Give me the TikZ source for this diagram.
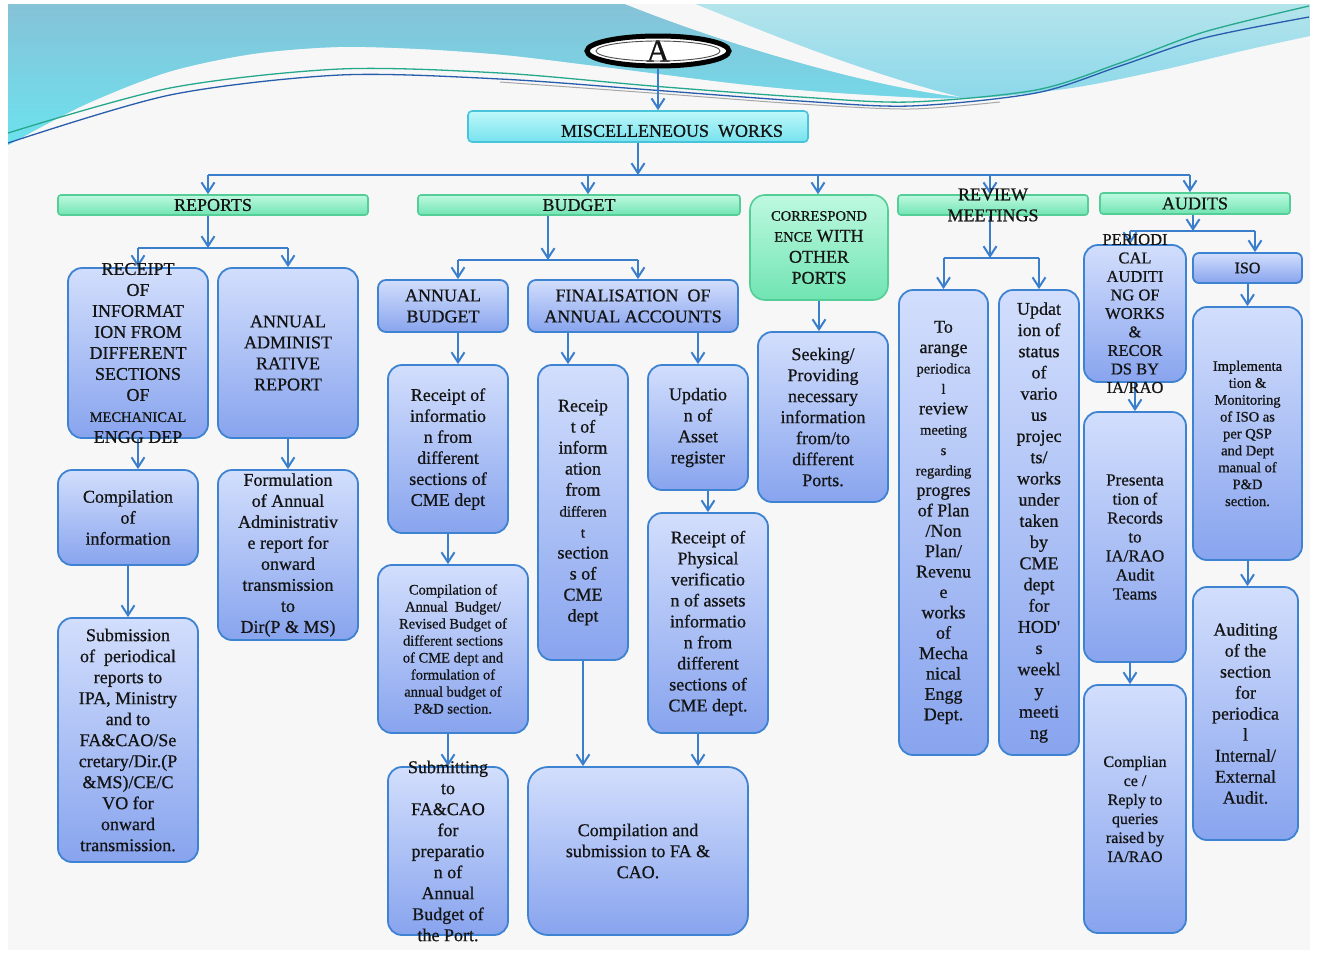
\documentclass[tikz,border=0pt]{standalone}
\usepackage{fontspec}
\setmainfont{Liberation Serif}[FakeBold=0.7]
\usetikzlibrary{arrows.meta,shapes.geometric,calc}

\definecolor{edge}{RGB}{58,126,204}
\definecolor{btop}{RGB}{210,222,252}
\definecolor{bbot}{RGB}{136,164,238}
\definecolor{bline}{RGB}{62,130,210}
\definecolor{gtop}{RGB}{190,249,224}
\definecolor{gbot}{RGB}{112,228,178}
\definecolor{gline}{RGB}{84,206,150}
\definecolor{ctop}{RGB}{190,248,250}
\definecolor{cbot}{RGB}{118,226,238}
\definecolor{cline}{RGB}{72,196,218}
\definecolor{paper}{RGB}{247,247,247}
\definecolor{waveLa}{RGB}{134,194,216}
\definecolor{waveLb}{RGB}{108,226,238}
\definecolor{waveRa}{RGB}{180,228,235}
\definecolor{waveRb}{RGB}{120,210,234}
\definecolor{lgreen}{RGB}{38,168,140}
\definecolor{lblue}{RGB}{40,92,172}
\definecolor{ink}{RGB}{20,20,20}

\newcommand{\smtxt}[1]{{\fontsize{14.5}{21}\selectfont #1}}

\tikzset{
  bluebox/.style={rectangle, rounded corners=14pt, draw=bline, line width=1.8pt,
    top color=btop, bottom color=bbot, inner sep=0pt},
  greenbar/.style={rectangle, rounded corners=3pt, draw=gline, line width=1.6pt,
    top color=gtop, bottom color=gbot, inner sep=0pt},
  cyanbar/.style={rectangle, rounded corners=4pt, draw=cline, line width=1.6pt,
    top color=ctop, bottom color=cbot, inner sep=0pt},
  conn/.style={draw=edge, line width=2pt},
  arr/.style={conn, -{Straight Barb[length=10pt,width=13pt]}},
  txt/.style={align=center, inner sep=0pt, text=ink, font=\fontsize{18}{21}\selectfont},
}

\begin{document}
\begin{tikzpicture}[x=1pt,y=-1pt]
\useasboundingbox (0,0) rectangle (1317,953);
\fill[white] (0,0) rectangle (1317,953);
\fill[paper] (8,4) rectangle (1310,950);

% decorative waves along the top
\path[top color=waveRa, bottom color=waveRb] (8,4) -- (1310,4) -- (1310,36) -- plot[smooth] coordinates {(1310,36) (1246,50) (1162,70) (1078,87) (994,97) (930,98) (825,92) (740,84) (652,73) (589,65) (505,55) (421,49) (337,47) (252,54) (168,72) (84,105) (8,145)} -- cycle;
\path[top color=waveLa, bottom color=waveLb] (8,4) -- (625,4) .. controls (740,50) and (880,88) .. (960,97) -- plot[smooth] coordinates {(960,97.5) (930,98) (825,92) (740,84) (652,73) (589,65) (505,55) (421,49) (337,47) (252,54) (168,72) (84,105) (8,145)} -- cycle;
\fill[paper] (625,4) .. controls (740,50) and (880,88) .. (960,97) .. controls (860,72) and (760,30) .. (695,4) -- cycle;
\draw[lgreen, line width=1.3pt] plot[smooth] coordinates {(8,133) (170,88) (340,69) (500,73) (652,86) (800,97) (910,102) (1036,90) (1120,63) (1204,32) (1309,6)};
\draw[lblue, line width=1.3pt] plot[smooth] coordinates {(8,143) (170,95) (340,75) (500,79) (652,90) (800,101) (910,106) (1036,93) (1120,66) (1204,38) (1309,17)};
\draw[gray!70, line width=1pt] plot[smooth] coordinates {(500,82) (652,93) (800,104) (910,109) (1000,102)};

% root and first level
\node[ellipse, draw=black, line width=5pt, fill=white, minimum width=142pt, minimum height=30pt,
  inner sep=0pt, text=ink, font=\fontsize{32}{32}\selectfont] (A) at (658,51) {A};
\draw[gray!60!black, line width=0.9pt] (A.center) ellipse [x radius=62pt, y radius=10pt];
\node[cyanbar, minimum width=340pt, minimum height=31pt] (misc) at (638,126.5) {};
\node[txt] (misct) at (672,131) {MISCELLENEOUS\ \ WORKS};

\node[greenbar, minimum width=310pt, minimum height=20pt] (rep) at (213,205) {};
\node[greenbar, minimum width=322pt, minimum height=20pt] (bud) at (579,205) {};
\node[greenbar, rounded corners=15pt, minimum width=138pt, minimum height=105pt] (cor) at (819,247.5) {};
\node[greenbar, minimum width=190pt, minimum height=20pt] (rev) at (993,205) {};
\node[greenbar, minimum width=190pt, minimum height=21pt] (aud) at (1195,203.5) {};

% reports branch
\node[bluebox, minimum width=140pt, minimum height=170pt] (r1) at (138,353) {};
\node[bluebox, minimum width=140pt, minimum height=170pt] (r2) at (288,353) {};
\node[bluebox, minimum width=140pt, minimum height=95pt] (r3) at (128,517.5) {};
\node[bluebox, minimum width=140pt, minimum height=170pt] (r4) at (288,555) {};
\node[bluebox, minimum width=140pt, minimum height=244pt] (r5) at (128,740) {};

% budget branch
\node[bluebox, rounded corners=8pt, minimum width=130pt, minimum height=52pt] (b1) at (443,306) {};
\node[bluebox, rounded corners=8pt, minimum width=210pt, minimum height=52pt] (b2) at (633,306) {};
\node[bluebox, minimum width=120pt, minimum height=168pt] (b3) at (448,449) {};
\node[bluebox, minimum width=90pt, minimum height=295pt] (b4) at (583,512.5) {};
\node[bluebox, minimum width=100pt, minimum height=125pt] (b5) at (698,427.5) {};
\node[bluebox, minimum width=120pt, minimum height=220pt] (b6) at (708,623) {};
\node[bluebox, minimum width=150pt, minimum height=168pt] (b7) at (453,649) {};
\node[bluebox, minimum width=120pt, minimum height=168pt] (b8) at (448,851) {};
\node[bluebox, rounded corners=20pt, minimum width=220pt, minimum height=168pt] (b9) at (638,851) {};

% correspondence branch
\node[bluebox, minimum width=130pt, minimum height=170pt] (c2) at (823,417) {};

% review branch
\node[bluebox, minimum width=89pt, minimum height=465pt] (rv1) at (943.5,522.5) {};
\node[bluebox, minimum width=80pt, minimum height=465pt] (rv2) at (1039,522.5) {};

% audits branch
\node[bluebox, minimum width=102pt, minimum height=137pt] (a1) at (1135,313.5) {};
\node[bluebox, rounded corners=6pt, minimum width=109pt, minimum height=30pt] (iso) at (1247.5,268) {};
\node[bluebox, minimum width=102pt, minimum height=250pt] (a2) at (1135,537) {};
\node[bluebox, minimum width=109pt, minimum height=253pt] (a3) at (1247.5,433.5) {};
\node[bluebox, minimum width=102pt, minimum height=248pt] (a4) at (1135,809) {};
\node[bluebox, minimum width=105pt, minimum height=253pt] (a5) at (1245.5,713.5) {};

% junction points
\coordinate (ta) at (208,175);
\coordinate (tb) at (588,175);
\coordinate (tc) at (818,175);
\coordinate (td) at (990,175);
\coordinate (te) at (1190,175);
\coordinate (rj) at (208,248);
\coordinate (bj) at (548,260);
\coordinate (bl) at (458,260);
\coordinate (br) at (638,260);
\coordinate (vj) at (990,258);
\coordinate (aj) at (1193,231);
\coordinate (al) at (1130,231);
\coordinate (ar) at (1255,231);
\path ([xshift=-15pt]b4.north) coordinate (b4in);

% connectors
\draw[arr] (A.south) -- (A.south |- misc.north);
\draw[arr] (misc.south) -- (misc.south |- ta);
\draw[conn] (ta) -- (te);
\draw[arr] (ta) -- (ta |- rep.north);
\draw[arr] (tb) -- (tb |- bud.north);
\draw[arr] (tc) -- (tc |- cor.north);
\draw[arr] (td) -- (td |- rev.north);
\draw[arr] (te) -- (te |- aud.north);

\draw[arr] (rj |- rep.south) -- (rj);
\draw[conn] (r1.north |- rj) -- (r2.north |- rj);
\draw[arr] (r1.north |- rj) -- (r1.north);
\draw[arr] (r2.north |- rj) -- (r2.north);
\draw[arr] (r1.south) -- (r1.south |- r3.north);
\draw[arr] (r3.south) -- (r5.north);
\draw[arr] (r2.south) -- (r4.north);

\draw[arr] (bj |- bud.south) -- (bj);
\draw[conn] (bl) -- (br);
\draw[arr] (bl) -- (bl |- b1.north);
\draw[arr] (br) -- (br |- b2.north);
\draw[arr] (bl |- b1.south) -- (bl |- b3.north);
\draw[arr] (b4in |- b2.south) -- (b4in);
\draw[arr] (b5.north |- b2.south) -- (b5.north);
\draw[arr] (b6.north |- b5.south) -- (b6.north);
\draw[arr] (b3.south) -- (b3.south |- b7.north);
\draw[arr] (b8.north |- b7.south) -- (b8.north);
\draw[arr] (b4.south) -- (b4.south |- b9.north);
\draw[arr] (b5.south |- b6.south) -- (b5.south |- b9.north);

\draw[arr] (cor.south) -- (cor.south |- c2.north);

\draw[arr] (vj |- rev.south) -- (vj);
\draw[conn] (rv1.north |- vj) -- (rv2.north |- vj);
\draw[arr] (rv1.north |- vj) -- (rv1.north);
\draw[arr] (rv2.north |- vj) -- (rv2.north);

\draw[arr] (aj |- aud.south) -- (aj);
\draw[conn] (al) -- (ar);
\draw[arr] (al) -- (al |- a1.north);
\draw[arr] (ar) -- (ar |- iso.north);
\draw[arr] (a1.south) -- (a1.south |- a2.north);
\draw[arr] (al |- a2.south) -- (al |- a4.north);
\draw[arr] (iso.south) -- (iso.south |- a3.north);
\draw[arr] (a3.south) -- (a3.south |- a5.north);

% texts
\node[txt] (rept) at (rep) {REPORTS};
\node[txt] (budt) at (bud) {BUDGET};
\node[txt] (cort) at (cor) {\smtxt{CORRESPOND}\\\smtxt{ENCE} WITH\\OTHER\\PORTS};
\node[txt] (revt) at (rev) {REVIEW\\MEETINGS};
\node[txt] (audt) at (aud) {AUDITS};

\node[txt] (r1t) at (r1) {RECEIPT\\OF\\INFORMAT\\ION FROM\\DIFFERENT\\SECTIONS\\OF\\\smtxt{MECHANICAL}\\ENGG DEP};
\node[txt] (r2t) at (r2) {ANNUAL\\ADMINIST\\RATIVE\\REPORT};
\node[txt] (r3t) at (r3) {Compilation\\of\\information};
\node[txt] (r4t) at (r4) {Formulation\\of Annual\\Administrativ\\e report for\\onward\\transmission\\to\\Dir(P \& MS)};
\node[txt] (r5t) at (r5) {Submission\\of\ \ periodical\\reports to\\IPA, Ministry\\and to\\FA\&CAO/Se\\cretary/Dir.(P\\\&MS)/CE/C\\VO for\\onward\\transmission.};

\node[txt] (b1t) at (b1) {ANNUAL\\BUDGET};
\node[txt] (b2t) at (b2) {FINALISATION\ \ OF\\ANNUAL ACCOUNTS};
\node[txt] (b3t) at (b3) {Receipt of\\informatio\\n from\\different\\sections of\\CME dept};
\node[txt] (b4t) at (b4) {Receip\\t of\\inform\\ation\\from\\{\fontsize{15}{21}\selectfont differen}\\{\fontsize{15}{21}\selectfont t}\\section\\s of\\CME\\dept};
\node[txt] (b5t) at (b5) {Updatio\\n of\\Asset\\register};
\node[txt] (b6t) at (b6) {Receipt of\\Physical\\verificatio\\n of assets\\informatio\\n from\\different\\sections of\\CME dept.};
\node[txt, font=\fontsize{14.5}{17}\selectfont] (b7t) at (b7) {Compilation of\\Annual\ \ Budget/\\Revised Budget of\\different sections\\of CME dept and\\formulation of\\annual budget of\\P\&D section.};
\node[txt] (b8t) at (b8) {Submitting\\to\\FA\&CAO\\for\\preparatio\\n of\\Annual\\Budget of\\the Port.};
\node[txt] (b9t) at (b9) {Compilation and\\submission to FA \&\\CAO.};

\node[txt] (c2t) at (c2) {Seeking/\\Providing\\necessary\\information\\from/to\\different\\Ports.};

\node[txt, font=\fontsize{18}{20.4}\selectfont] (rv1t) at (rv1) {To\\arange\\\smtxt{periodica}\\\smtxt{l}\\review\\\smtxt{meeting}\\\smtxt{s}\\\smtxt{regarding}\\progres\\of Plan\\/Non\\Plan/\\Revenu\\e\\works\\of\\Mecha\\nical\\Engg\\Dept.};
\node[txt, font=\fontsize{18}{21.2}\selectfont] (rv2t) at (rv2) {Updat\\ion of\\status\\of\\vario\\us\\projec\\ts/\\works\\under\\taken\\by\\CME\\dept\\for\\HOD\textquotesingle\\s\\weekl\\y\\meeti\\ng};

\node[txt, font=\fontsize{16.5}{18.5}\selectfont] (a1t) at (a1) {PERIODI\\CAL\\AUDITI\\NG OF\\WORKS\\\&\\RECOR\\DS BY\\IA/RAO};
\node[txt, font=\fontsize{16}{19}\selectfont] (isot) at (iso) {ISO};
\node[txt, font=\fontsize{17}{19}\selectfont] (a2t) at (a2) {Presenta\\tion of\\Records\\to\\IA/RAO\\Audit\\Teams};
\node[txt, font=\fontsize{14.5}{16.9}\selectfont] (a3t) at (a3) {Implementa\\tion \&\\Monitoring\\of ISO as\\per QSP\\and Dept\\manual of\\P\&D\\section.};
\node[txt, font=\fontsize{16}{19}\selectfont] (a4t) at (a4) {Complian\\ce /\\Reply to\\queries\\raised by\\IA/RAO};
\node[txt] (a5t) at (a5) {Auditing\\of the\\section\\for\\periodica\\l\\Internal/\\External\\Audit.};
\end{tikzpicture}
\end{document}
